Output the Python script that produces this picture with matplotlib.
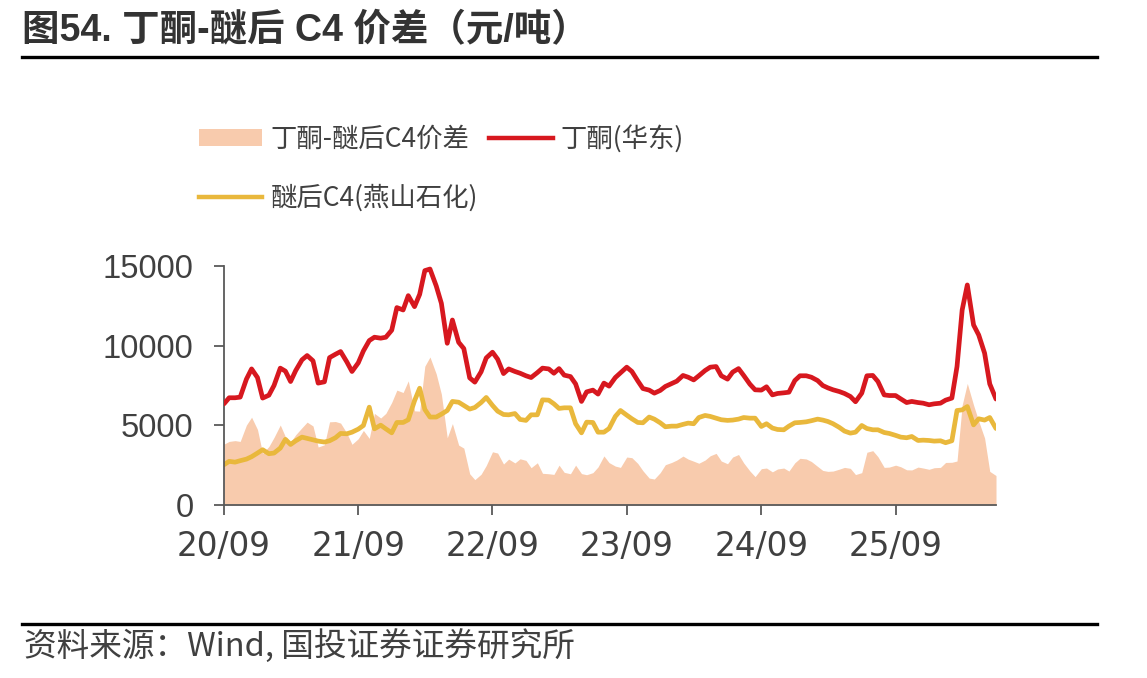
import numpy as np
import pandas as pd
import matplotlib
matplotlib.use("Agg")
import matplotlib.pyplot as plt
import matplotlib.dates as mdates
from matplotlib.patches import Patch
from matplotlib.lines import Line2D

# ---------------- data (semi-monthly samples) ----------------
start_date = "2020-09-01"

mek_east = [  # 丁酮(华东)
    6350, 6730, 6730, 6770, 7900, 8540, 8000, 6710, 6890, 7500,
    8590, 8400, 7750, 8440, 9110, 9380, 9050, 7650, 7730, 9250,
    9460, 9630, 8980, 8380, 8920, 9670, 10320, 10530, 10470, 10530,
    10970, 12390, 12240, 13140, 12450, 13220, 14710, 14810, 13750, 12660,
    10150, 11610, 10210, 9820, 7980, 7710, 8360, 9230, 9590, 9150,
    8250, 8540, 8380, 8270, 8110, 8000, 8310, 8590, 8540, 8270,
    8560, 8150, 8060, 7600, 6500, 7100, 7210, 6960, 7650, 7460,
    8000, 8290, 8650, 8380, 7790, 7310, 7210, 7020, 7190, 7440,
    7620, 7770, 8130, 8020, 7850, 8110, 8440, 8650, 8690, 8110,
    7900, 8340, 8560, 8130, 7580, 7230, 7210, 7420, 6910, 7000,
    7040, 7080, 7810, 8110, 8110, 8020, 7810, 7500, 7350, 7230,
    7120, 7000, 6810, 6480, 7020, 8110, 8130, 7750, 6910, 6870,
    6870, 6660, 6430, 6500, 6430, 6390, 6290, 6350, 6390, 6580,
    6710, 8690, 12240, 13810, 11300, 10670, 9530, 7600, 6650,
]

c4_yanshan = [  # 醚后C4(燕山石化)
    2530, 2740, 2690, 2780, 2880, 3030, 3260, 3470, 3220, 3260,
    3570, 4120, 3800, 4030, 4260, 4180, 4090, 4010, 3950, 4030,
    4220, 4490, 4470, 4570, 4760, 4990, 6140, 4780, 5010, 4780,
    4530, 5180, 5180, 5350, 6540, 7330, 6000, 5520, 5520, 5700,
    5930, 6500, 6450, 6250, 6020, 6120, 6430, 6750, 6250, 5890,
    5680, 5660, 5740, 5370, 5310, 5660, 5660, 6600, 6580, 6350,
    6060, 6100, 6100, 5100, 4530, 5200, 5180, 4570, 4570, 4800,
    5560, 5930, 5640, 5410, 5180, 5160, 5520, 5390, 5160, 4910,
    4950, 4950, 5060, 5140, 5100, 5490, 5620, 5560, 5450, 5350,
    5310, 5330, 5390, 5490, 5450, 5450, 4930, 5100, 4830, 4740,
    4720, 4950, 5160, 5180, 5220, 5290, 5390, 5330, 5240, 5100,
    4870, 4640, 4510, 4570, 4990, 4800, 4720, 4720, 4550, 4490,
    4370, 4260, 4220, 4300, 4050, 4070, 4050, 4010, 4030, 3910,
    4030, 5930, 5970, 6180, 5030, 5410, 5330, 5490, 4800,
]

tick_dates = ["2020-09-01", "2021-09-01", "2022-09-01", "2023-09-01",
              "2024-09-01", "2025-09-01"]
y_ticks = [0, 5000, 10000, 15000]

title = "图54. 丁酮-醚后 C4 价差（元/吨）"
source = "资料来源：Wind, 国投证券证券研究所"
label_spread = "丁酮-醚后C4价差"
label_mek = "丁酮(华东)"
label_c4 = "醚后C4(燕山石化)"

# ---------------- derived ----------------
dates = pd.date_range(start_date, periods=len(mek_east), freq="SMS")
mek = np.array(mek_east, dtype=float)
c4 = np.array(c4_yanshan, dtype=float)
spread = mek - c4  # 价差 = 丁酮 - 醚后C4

# ---------------- style ----------------
RED = "#D7181F"
YELLOW = "#E9B83C"
PEACH = "#F8CBAD"
TXT = "#404040"
CJK = ["Noto Sans CJK SC", "DejaVu Sans"]

W, H = 1147, 678
fig = plt.figure(figsize=(W / 100, H / 100), dpi=100)
ax = fig.add_axes([224 / W, 1 - 505 / H, (996 - 224) / W, (505 - 266) / H])

ax.fill_between(dates, 0, spread, color=PEACH, lw=0, zorder=1)
ax.plot(dates, c4, color=YELLOW, lw=3.4, zorder=2, solid_capstyle="round")
ax.plot(dates, mek, color=RED, lw=3.4, zorder=3, solid_capstyle="round")

ax.set_xlim(dates[0], dates[-1])
ax.set_ylim(0, 15000)
ax.set_yticks(y_ticks)
ax.set_yticklabels([str(v) for v in y_ticks], fontfamily="Liberation Sans",
                   fontsize=23.5, color=TXT)
ax.set_xticks(pd.to_datetime(tick_dates))
ax.xaxis.set_major_formatter(mdates.DateFormatter("%y/%m"))
for lab in ax.get_xticklabels():
    lab.set_fontfamily("DejaVu Sans")
    lab.set_fontsize(23.5)
    lab.set_color(TXT)

for s in ["top", "right"]:
    ax.spines[s].set_visible(False)
for s in ["left", "bottom"]:
    ax.spines[s].set_color("#595959")
    ax.spines[s].set_linewidth(1.3)
ax.tick_params(axis="both", direction="out", length=7, width=1.3, color="#595959")
ax.tick_params(axis="y", pad=15)
ax.tick_params(axis="x", pad=11)

# legend
handles = [
    Patch(facecolor=PEACH, edgecolor="none", label=label_spread),
    Line2D([], [], color=YELLOW, lw=3.2, label=label_c4),
    Line2D([], [], color=RED, lw=3.2, label=label_mek),
]
leg = fig.legend(handles=handles, ncol=2, loc="upper left",
                 bbox_to_anchor=(199 / W, 1 - 125 / H), frameon=False,
                 prop={"family": CJK, "size": 19}, labelcolor=TXT,
                 handlelength=2.4, handleheight=0.6, handletextpad=0.3,
                 columnspacing=0.45, labelspacing=1.2, borderpad=0,
                 borderaxespad=0)

# title & lines
fig.text(22 / W, 1 - 31 / H, title, fontsize=27, fontweight="bold",
         family=["Liberation Sans", "Noto Sans CJK SC"], color="#333333",
         va="center", ha="left")
fig.add_artist(Line2D([22 / W, 1097 / W], [1 - 57 / H, 1 - 57 / H],
                      color="black", lw=2.4))
fig.add_artist(Line2D([22 / W, 1097 / W], [1 - 624 / H, 1 - 624 / H],
                      color="black", lw=2.4))
fig.text(24 / W, 1 - 646 / H, source, fontsize=23.5, family=CJK,
         color="#404040", va="center", ha="left", style="italic")

fig.savefig("out.png", dpi=100)
